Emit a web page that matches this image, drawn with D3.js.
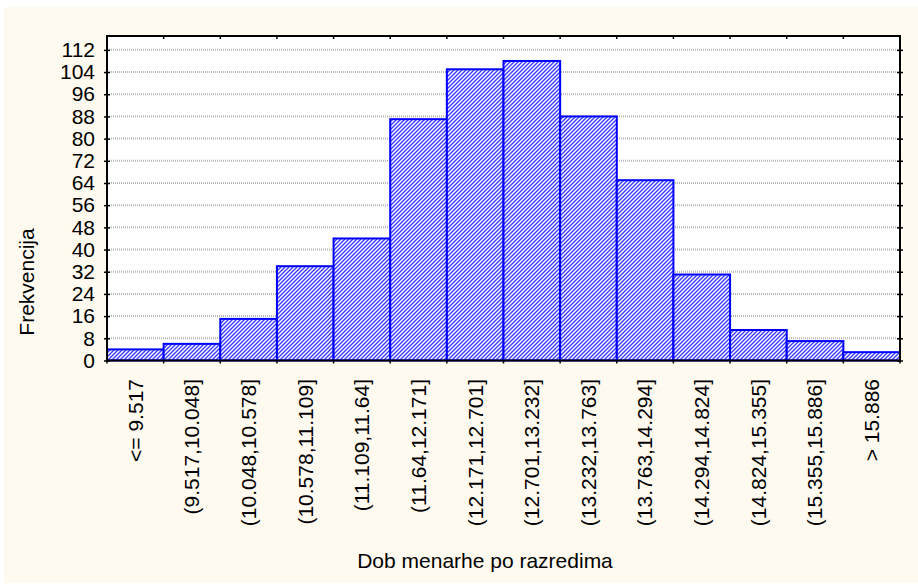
<!DOCTYPE html>
<html>
<head>
<meta charset="utf-8">
<script src="https://cdn.jsdelivr.net/npm/d3@7"></script>
<style>
  body { margin: 0; background: #ffffff; }
  text { font-family: "Liberation Sans", Arial, sans-serif; fill: #000; }
</style>
</head>
<body>
<div id="chart"></div>
<script>
(function () {
    var width = 918,
        height = 585;

    // class intervals (x tick labels)
    var categories = ["<= 9.517", "(9.517,10.048]", "(10.048,10.578]", "(10.578,11.109]",
        "(11.109,11.64]", "(11.64,12.171]", "(12.171,12.701]", "(12.701,13.232]",
        "(13.232,13.763]", "(13.763,14.294]", "(14.294,14.824]", "(14.824,15.355]",
        "(15.355,15.886]", "> 15.886"];
    // frequency per class
    var counts = [4, 6, 15, 34, 44, 87, 105, 108, 88, 65, 31, 11, 7, 3];
    // y tick labels
    var yTicks = [0, 8, 16, 24, 32, 40, 48, 56, 64, 72, 80, 88, 96, 104, 112];

    var plot = { left: 107, right: 900, top: 36, bottom: 360.5 };

    var svg = d3.select("#chart").append("svg")
        .attr("width", width)
        .attr("height", height);

    var defs = svg.append("defs");
    var pat = defs.append("pattern")
        .attr("id", "hatch")
        .attr("patternUnits", "userSpaceOnUse")
        .attr("width", 4)
        .attr("height", 4);
    pat.append("rect").attr("width", 4).attr("height", 4).attr("fill", "#ffffff");
    pat.append("path")
        .attr("d", "M-1,1 l2,-2 M0,4 l4,-4 M3,5 l2,-2")
        .attr("stroke", "#3c3cff")
        .attr("stroke-width", 1.4);

    // cream background
    svg.append("rect")
        .attr("x", 4).attr("y", 7)
        .attr("width", width - 4).attr("height", height - 9)
        .attr("fill", "#fffaf0");

    var x = d3.scaleBand().domain(categories).range([plot.left, plot.right]).padding(0);
    var y = d3.scaleLinear().domain([0, 117]).range([plot.bottom, plot.top]);

    // plot area
    svg.append("rect")
        .attr("x", plot.left).attr("y", plot.top)
        .attr("width", plot.right - plot.left).attr("height", plot.bottom - plot.top)
        .attr("fill", "#ffffff");

    // dotted grid
    svg.append("g")
        .selectAll("line")
        .data(yTicks.filter(function (d) { return d > 0; }))
        .enter().append("line")
        .attr("x1", plot.left).attr("x2", plot.right)
        .attr("y1", function (d) { return y(d); })
        .attr("y2", function (d) { return y(d); })
        .attr("stroke", "#b8b8b8")
        .attr("stroke-width", 2)
        .attr("stroke-dasharray", "1,1");

    // bars
    svg.append("g")
        .selectAll("rect")
        .data(counts)
        .enter().append("rect")
        .attr("x", function (d, i) { return x(categories[i]); })
        .attr("y", function (d) { return y(d); })
        .attr("width", x.bandwidth())
        .attr("height", function (d) { return y(0) - y(d); })
        .attr("fill", "url(#hatch)")
        .attr("stroke", "#0000ff")
        .attr("stroke-width", 2);

    // frame
    svg.append("rect")
        .attr("x", plot.left).attr("y", plot.top)
        .attr("width", plot.right - plot.left).attr("height", plot.bottom - plot.top)
        .attr("fill", "none")
        .attr("stroke", "#000")
        .attr("stroke-width", 2);

    // left axis
    var yAxis = svg.append("g")
        .attr("transform", "translate(" + plot.left + ",0)")
        .call(d3.axisLeft(y).tickValues(yTicks).tickSize(3).tickPadding(9));
    yAxis.select(".domain").remove();
    yAxis.selectAll(".tick line").attr("x2", 3).attr("x1", -3).attr("stroke", "#000").attr("stroke-width", 1.5);
    yAxis.selectAll(".tick text").style("font-size", "21px").attr("fill", "#000");

    // right axis ticks
    var yAxisR = svg.append("g")
        .attr("transform", "translate(" + plot.right + ",0)")
        .call(d3.axisRight(y).tickValues(yTicks).tickSize(3).tickFormat(""));
    yAxisR.select(".domain").remove();
    yAxisR.selectAll(".tick line").attr("x1", -3).attr("stroke", "#000").attr("stroke-width", 1.5);

    // bin boundary ticks, top and bottom
    var edges = categories.map(function (c) { return x(c); }).concat([plot.right]);
    svg.append("g").selectAll("line")
        .data(edges)
        .enter().append("line")
        .attr("x1", function (d) { return d; }).attr("x2", function (d) { return d; })
        .attr("y1", plot.bottom).attr("y2", plot.bottom + 3)
        .attr("stroke", "#000").attr("stroke-width", 1.5);
    svg.append("g").selectAll("line")
        .data(edges)
        .enter().append("line")
        .attr("x1", function (d) { return d; }).attr("x2", function (d) { return d; })
        .attr("y1", plot.top).attr("y2", plot.top + 3)
        .attr("stroke", "#000").attr("stroke-width", 1.5);

    // x labels, rotated
    svg.append("g").selectAll("text")
        .data(categories)
        .enter().append("text")
        .attr("transform", function (d) {
            return "translate(" + (x(d) + x.bandwidth() / 2) + ",379) rotate(-90)";
        })
        .attr("text-anchor", "end")
        .attr("dy", "0.35em")
        .style("font-size", "21px")
        .text(function (d) { return d; });

    // axis titles
    svg.append("text")
        .attr("x", 485).attr("y", 568)
        .attr("text-anchor", "middle")
        .style("font-size", "21px")
        .text("Dob menarhe po razredima");

    svg.append("text")
        .attr("transform", "translate(34,282) rotate(-90)")
        .attr("text-anchor", "middle")
        .style("font-size", "21px")
        .text("Frekvencija");
})();
</script>
</body>
</html>
